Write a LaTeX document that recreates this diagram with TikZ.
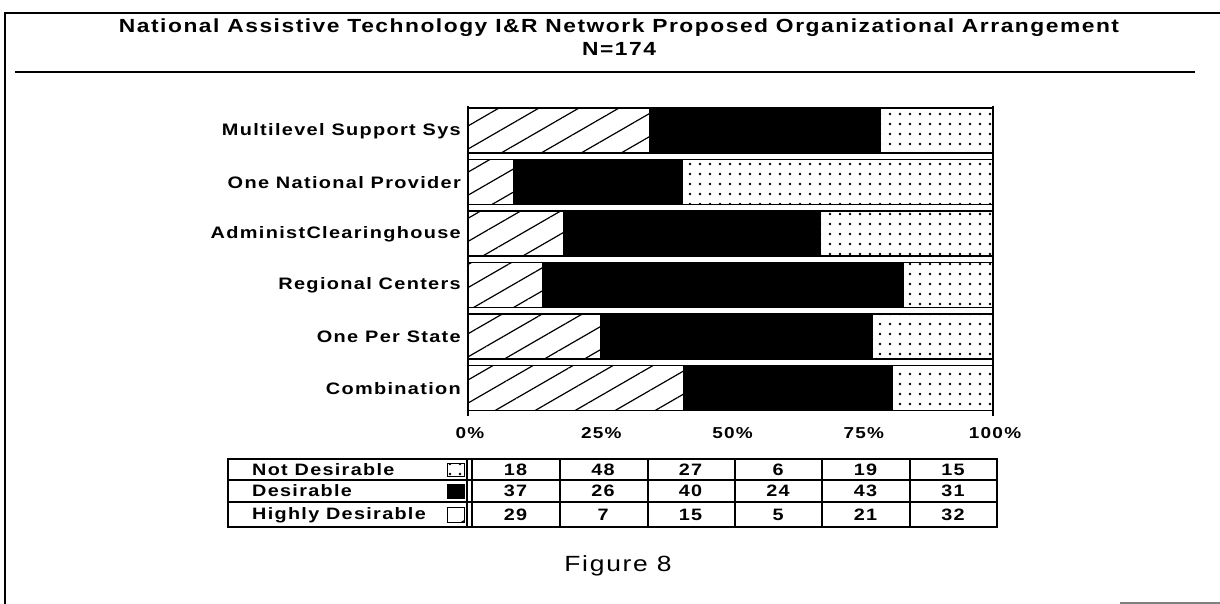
\documentclass[tikz,border=0pt]{standalone}
\usepackage{fontspec}
\newfontfamily\chartfont[LetterSpace=8,FakeStretch=1.2]{Liberation Sans}
\usetikzlibrary{patterns.meta}

\tikzset{
  highly/.style={draw, line width=1.3pt, pattern={Lines[angle=30,distance=20pt,line width=1.2pt]}},
  desir/.style={draw, line width=1.3pt, fill=black},
  notdes/.style={draw, line width=1.3pt, pattern={Dots[distance=10pt,radius=1.3pt]}},
  barlabel/.style={anchor=east, inner sep=0pt, font=\chartfont\bfseries\fontsize{16.6}{18}\selectfont},
  ticklabel/.style={inner sep=0pt, font=\chartfont\bfseries\fontsize{15.8}{18}\selectfont},
  cell/.style={inner sep=0pt, font=\chartfont\bfseries\fontsize{16.5}{18}\selectfont},
  titletext/.style={inner sep=0pt, font=\chartfont\bfseries\fontsize{19}{22}\selectfont}
}

\begin{document}
\begin{tikzpicture}[x=1pt,y=-1pt]
 \useasboundingbox (0,0) rectangle (1220,604);
 % frame and heading
 \draw[line width=1.8pt] (5,604) -- (5,13) -- (1220,13);
 \node[titletext] (title) at (619,28) {National Assistive Technology I\&R Network Proposed Organizational Arrangement};
 \node[titletext] (count) at (619,49) {N=174};
 \draw[line width=1.3pt] (15,72) -- (1195,72);

 % bars: label/highly/desirable/not desirable
 \foreach \lab/\h/\d/\n [count=\i] in {Multilevel Support Sys/29/37/18,One National Provider/7/26/48,AdministClearinghouse/15/40/27,Regional Centers/5/24/6,One Per State/21/43/19,Combination/32/31/15} {
  \pgfmathsetmacro\xa{468+525*(\h/(\h+\d+\n))}
  \pgfmathsetmacro\xb{468+525*((\h+\d)/(\h+\d+\n))}
  \pgfmathsetmacro\yt{108+51.5*(\i-1)}
  \draw[highly] (468,\yt) rectangle (\xa,\yt+45);
  \draw[desir] (\xa,\yt) rectangle (\xb,\yt+45);
  \draw[notdes] (\xb,\yt) rectangle (993,\yt+45);
  \node[barlabel] (lab\i) at (461,\yt+23) {\lab};
 }
 \draw[line width=1.3pt] (468,106) -- (468,416);
 \draw[line width=1.3pt] (993,106) -- (993,416);

 % axis
 \foreach \p [count=\k from 0] in {0,25,50,75,100}
  \node[ticklabel] (tick\p) at (470+131.25*\k,433) {\p\%};

 % table
 \draw[line width=1.5pt] (228,459) rectangle (997,527);
 \draw[line width=1.2pt] (228,480) -- (997,480);
 \draw[line width=1.2pt] (228,502) -- (997,502);
 \draw[line width=1.2pt] (467,459) -- (467,527);
 \foreach \cx in {472,560,648,735,822,910}
  \draw[line width=1.2pt] (\cx,459) -- (\cx,527);
 \node[cell, anchor=west] (rowa) at (252,470) {Not Desirable};
 \node[cell, anchor=west] (rowb) at (252,491) {Desirable};
 \node[cell, anchor=west] (rowc) at (252,515) {Highly Desirable};
 \draw[notdes, line width=1pt] (447,463) rectangle (464,476);
 \draw[desir, line width=1pt] (447,484) rectangle (464,498);
 \draw[highly, line width=1pt] (447,507) rectangle (464,522);
 \foreach \a/\b/\c [count=\j] in {18/37/29,48/26/7,27/40/15,6/24/5,19/43/21,15/31/32} {
  \node[cell] (na\j) at (428+87.5*\j,470) {\a};
  \node[cell] (nb\j) at (428+87.5*\j,491) {\b};
  \node[cell] (nc\j) at (428+87.5*\j,515) {\c};
 }

 \node[inner sep=0pt, font=\chartfont\fontsize{22}{26}\selectfont] (fig) at (618,566) {Figure 8};
 \draw[gray, line width=1.2pt] (1120,603) -- (1220,603);
\end{tikzpicture}
\end{document}
